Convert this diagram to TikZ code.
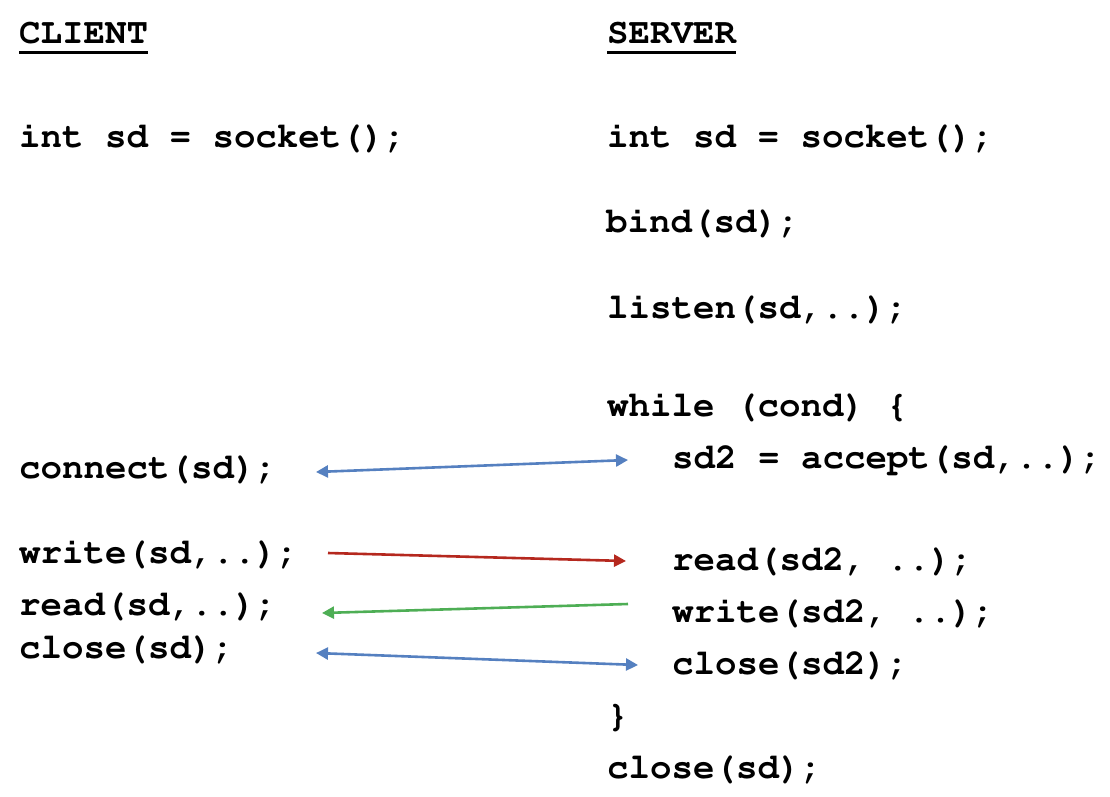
\documentclass[tikz,border=0pt]{standalone}
\usepackage[T1]{fontenc}
\usepackage{courier}
\usetikzlibrary{arrows.meta}
\definecolor{ablue}{HTML}{5580C0}
\definecolor{ared}{HTML}{B5281E}
\definecolor{agreen}{HTML}{4EAE55}
\tikzset{
  code/.style={anchor=base west, inner sep=0pt, font=\fontsize{35.8}{40}\selectfont\ttfamily\bfseries},
  conn/.style={line width=2.6pt, -{Triangle[length=12pt,width=12pt]}},
  bidir/.style={line width=2.6pt, {Triangle[length=12pt,width=12pt]}-{Triangle[length=12pt,width=12pt]}},
  uline/.style={line width=3pt}
}
\begin{document}
\begin{tikzpicture}[x=1pt,y=-1pt]
\useasboundingbox (0,0) rectangle (1110,796);
% client column
\node[code] (chead) at (19,43) {CLIENT};
\node[code] (csock) at (19,147) {int sd = socket();};
\node[code] (cconn) at (19,478) {connect(sd);};
\node[code] (cwrite) at (19,563) {write(sd,..);};
\node[code] (cread) at (19,615) {read(sd,..);};
\node[code] (cclose) at (19,658) {close(sd);};
% server column
\node[code] (shead) at (607,43) {SERVER};
\node[code] (ssock) at (607,147) {int sd = socket();};
\node[code] (sbind) at (606,232) {bind(sd);};
\node[code] (slisten) at (607,318) {listen(sd,..);};
\node[code] (swhile) at (607,416) {while (cond) \{};
\node[code] (saccept) at (672,468) {sd2 = accept(sd,..);};
\node[code] (sread) at (672,570) {read(sd2, ..);};
\node[code] (swrite) at (672,622) {write(sd2, ..);};
\node[code] (sclose2) at (672,674) {close(sd2);};
\node[code] (sbrace) at (607,726) {\}};
\node[code] (sclose) at (607,778) {close(sd);};
% underlines
\draw[uline] (chead.south west) ++(0,9) coordinate (cu1) -- (cu1 -| chead.south east);
\draw[uline] (shead.south west) ++(0,9) coordinate (su1) -- (su1 -| shead.south east);
% arrow end points
\coordinate (a1l) at (316,472);
\coordinate (a1r) at (628,460);
\coordinate (a2l) at (328,553);
\coordinate (a2r) at (626,561);
\coordinate (a3r) at (628,604);
\coordinate (a3l) at (322,613);
\coordinate (a4l) at (316,653);
\coordinate (a4r) at (638,665);
\draw[bidir, ablue] (a1l) -- (a1r);
\draw[conn, ared] (a2l) -- (a2r);
\draw[conn, agreen] (a3r) -- (a3l);
\draw[bidir, ablue] (a4l) -- (a4r);
\end{tikzpicture}
\end{document}
